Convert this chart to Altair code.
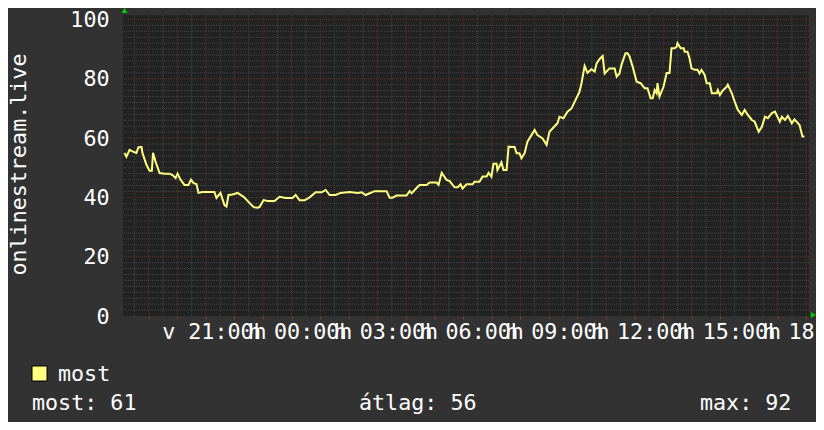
import altair as alt
import pandas as pd

# ---- data (hours since Sunday 00:00, value) ----
hours = [18.15, 18.22, 18.33, 18.43, 18.57, 18.64, 18.75, 18.78, 18.92, 19.03,
         19.11, 19.15, 19.24, 19.38, 19.55, 19.73, 19.83, 19.94, 20.01, 20.11,
         20.25, 20.39, 20.48, 20.57, 20.67, 20.74, 20.88, 21.13, 21.30, 21.37,
         21.51, 21.65, 21.72, 21.79, 21.93, 22.11, 22.32, 22.49, 22.67, 22.81,
         22.88, 23.02, 23.16, 23.40, 23.58, 23.79, 24.03, 24.14, 24.28, 24.45,
         24.63, 24.84, 25.05, 25.19, 25.33, 25.54, 25.71, 26.03, 26.31, 26.45,
         26.59, 26.73, 26.90, 27.32, 27.43, 27.53, 27.67, 28.02, 28.13, 28.20,
         28.41, 28.48, 28.72, 28.83, 29.07, 29.14, 29.25, 29.42, 29.53, 29.70,
         29.81, 29.91, 29.98, 30.12, 30.33, 30.40, 30.57, 30.68, 30.82, 30.89,
         30.99, 31.06, 31.17, 31.20, 31.34, 31.41, 31.52, 31.59, 31.80, 31.87,
         31.97, 32.04, 32.15, 32.25, 32.39, 32.50, 32.60, 32.78, 32.92, 33.02,
         33.20, 33.30, 33.37, 33.51, 33.65, 33.79, 33.93, 34.07, 34.14, 34.25,
         34.35, 34.49, 34.60, 34.67, 34.77, 34.88, 34.95, 35.12, 35.30, 35.37,
         35.47, 35.54, 35.68, 35.75, 35.82, 35.93, 36.07, 36.21, 36.35, 36.45,
         36.56, 36.63, 36.70, 36.77, 36.80, 36.87, 37.01, 37.12, 37.22, 37.29,
         37.40, 37.47, 37.50, 37.61, 37.72, 37.75, 37.85, 37.92, 37.99, 38.10,
         38.20, 38.27, 38.34, 38.45, 38.52, 38.63, 38.70, 38.87, 38.91, 38.98,
         39.08, 39.22, 39.26, 39.40, 39.50, 39.61, 39.75, 39.85, 39.96, 40.10,
         40.20, 40.34, 40.45, 40.56, 40.66, 40.80, 40.91, 41.08, 41.15, 41.26,
         41.36, 41.50, 41.59, 41.77, 41.87, 41.94]

values = [55, 53.7, 56, 55.5, 55, 56.9, 57, 55, 51, 49,
          49, 55, 52, 48.2, 48, 48, 47.5, 46.5, 48, 46,
          44.2, 44.2, 46, 44.8, 44.5, 41.5, 41.8, 41.8, 41.8, 39.8,
          41.5, 37.4, 36.9, 40.8, 41, 41.5, 40.2, 38.5, 36.7, 36.5,
          36.8, 39.1, 38.8, 38.8, 40.2, 39.8, 39.8, 40.8, 39, 39,
          40, 41.7, 41.7, 42.5, 40.8, 40.8, 41.5, 41.8, 41.5, 41.7,
          40.8, 41.4, 42.1, 42.1, 39.9, 39.9, 40.6, 40.6, 42.1, 41.4,
          43.6, 44.2, 44.2, 45, 45, 44.2, 48.3, 45.9, 45.5, 43.4,
          43.4, 44.4, 43, 44.4, 44.4, 45.3, 45.3, 47, 47, 48.3,
          47, 51.3, 51.3, 49.2, 51.8, 49.2, 49.2, 57.1, 57, 54.9,
          54.9, 53.2, 54.9, 58.8, 61, 62.7, 61, 59.9, 57.7, 62.1,
          64, 65, 67.2, 66.7, 68.9, 70, 72.8, 75.6, 78.5, 84.3,
          82, 83.2, 82.4, 85.2, 86.6, 87.7, 81.8, 83.5, 83.5, 80.7,
          81.8, 84.7, 88.6, 88.6, 87.5, 84.1, 79, 78.5, 76.8, 76.8,
          73.4, 73.4, 76.2, 75.1, 78.5, 74, 77.3, 81.9, 81.9, 90.3,
          90.3, 90.8, 92, 90.3, 90.3, 89.1, 89.1, 86.9, 83.5, 83,
          83, 81.8, 83, 81.3, 78.5, 78.5, 75.1, 75.1, 76.2, 74.5,
          76, 77.3, 78, 75.1, 72.3, 69.5, 67.8, 69.5, 67.8, 66.1,
          65.5, 62.1, 63.8, 67.2, 66.7, 68.4, 68.9, 65.5, 67.2, 66.1,
          67.5, 65, 66.3, 64.4, 60.5, 60.5]

tick_hours = [21, 24, 27, 30, 33, 36, 39, 42]
tick_labels = ["v 21:00h", "h 00:00h", "h 03:00h", "h 06:00h",
               "h 09:00h", "h 12:00h", "h 15:00h", "h 18:00h"]
y_ticks = [0, 20, 40, 60, 80, 100]
axis_title = "onlinestream.live"
series_name = "most"
stat_labels = ["most: 61", "átlag: 56", "max: 92"]

X_DOMAIN = [18.1, 42.1]
Y_DOMAIN = [0, 101.5]

FONT = "DejaVu Sans Mono"
FS = 21.7
LINE_COLOR = "#ffff80"
GRID_MINOR = "#474747"
GRID_MAJOR = "#5e3030"

df = pd.DataFrame({"t": hours, "v": values})

xs = alt.Scale(domain=X_DOMAIN, nice=False, zero=False)
ys = alt.Scale(domain=Y_DOMAIN, nice=False, zero=False)

hour_lines = list(range(19, 43))
half_lines = [h + 0.5 for h in range(18, 42)]
minor_y = [v for v in range(2, 101, 2) if v % 20]
major_y = [20, 40, 60, 80, 100]

x_axis = alt.Axis(
    values=hour_lines, labels=False, title=None, grid=False,
    domain=False, ticks=True, tickColor="#8a3838", tickSize=3)
y_axis = alt.Axis(
    values=y_ticks, title=axis_title, grid=False, domain=False, ticks=False,
    labelFont=FONT, labelFontSize=FS, labelColor="#ffffff", labelPadding=14,
    labelBaseline="middle",
    titleFont=FONT, titleFontSize=FS, titleColor="#ffffff",
    titleFontWeight="normal", titleAngle=270, titleAlign="center",
    titleBaseline="alphabetic", titleX=-98, titleY=149)

X = lambda: alt.X("t:Q", scale=xs, axis=x_axis)
Y = lambda: alt.Y("v:Q", scale=ys, axis=y_axis)

DASH = [1, 1]

vminor = alt.Chart(pd.DataFrame({"t": half_lines})).mark_rule(
    color=GRID_MINOR, strokeDash=DASH, strokeWidth=1
).encode(x=X())

hminor = alt.Chart(pd.DataFrame({"v": minor_y})).mark_rule(
    color=GRID_MINOR, strokeDash=DASH, strokeWidth=1
).encode(y=Y())

vmajor = alt.Chart(pd.DataFrame({"t": hour_lines})).mark_rule(
    color=GRID_MAJOR, strokeDash=DASH, strokeWidth=1
).encode(x=X())

hmajor = alt.Chart(pd.DataFrame({"v": major_y})).mark_rule(
    color=GRID_MAJOR, strokeDash=DASH, strokeWidth=1
).encode(y=Y())

line = alt.Chart(df).mark_line(
    color=LINE_COLOR, strokeWidth=2, interpolate="linear"
).encode(x=X(), y=Y())

xlabels = alt.Chart(pd.DataFrame({"t": tick_hours, "label": tick_labels})).mark_text(
    align="center", baseline="alphabetic", font=FONT, fontSize=FS,
    color="#ffffff", dx=8.5
).encode(x=X(), text="label:N", y=alt.value(324))

one = pd.DataFrame({"label": [series_name]})

legend_box = alt.Chart(one).mark_rect(
    fill=LINE_COLOR, stroke="#000000", strokeWidth=1
).encode(x=alt.value(-91), x2=alt.value(-76), y=alt.value(351), y2=alt.value(366))

legend_text = alt.Chart(one).mark_text(
    align="left", baseline="alphabetic", font=FONT, fontSize=FS, color="#ffffff"
).encode(text="label:N", x=alt.value(-65), y=alt.value(366))

stat_x = [-91, 236, 577]
stat_layers = []
for lab, sx in zip(stat_labels, stat_x):
    stat_layers.append(
        alt.Chart(pd.DataFrame({"label": [lab]})).mark_text(
            align="left", baseline="alphabetic", font=FONT, fontSize=FS, color="#ffffff"
        ).encode(text="label:N", x=alt.value(sx), y=alt.value(395))
    )

arrow_up = alt.Chart(one).mark_point(
    shape="triangle-up", filled=True, fill="#00cc00", stroke="#00cc00",
    strokeWidth=0, size=36, opacity=1
).encode(x=alt.value(1.5), y=alt.value(-4.5))

arrow_right = alt.Chart(one).mark_point(
    shape="triangle-right", filled=True, fill="#00cc00", stroke="#00cc00",
    strokeWidth=0, size=36, opacity=1
).encode(x=alt.value(690.5), y=alt.value(300))

chart = alt.layer(
    vminor, hminor, vmajor, hmajor, line, xlabels, legend_box, legend_text,
    *stat_layers, arrow_up, arrow_right
).properties(
    width=686, height=301,
    padding={"left": 115, "top": 7, "right": 7, "bottom": 106},
    autosize=alt.AutoSizeParams(type="none"),
).configure(
    background="#323232",
).configure_view(
    fill="#222222", stroke=None, strokeWidth=0
)

chart.save("out.html", embed_options={"renderer": "svg", "actions": False})
